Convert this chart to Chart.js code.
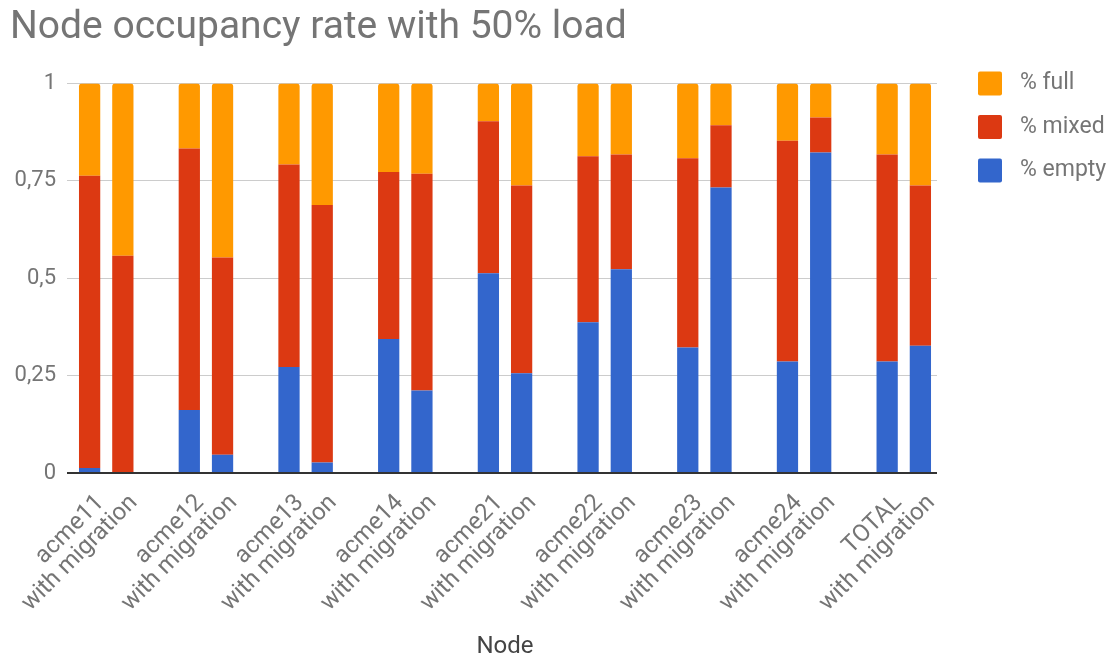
<!DOCTYPE html>
<html>
<head>
<meta charset="utf-8">
<title>Node occupancy rate with 50% load</title>
<script src="https://cdn.jsdelivr.net/npm/chart.js@4/dist/chart.umd.min.js"></script>
<style>
  html, body { margin: 0; padding: 0; background: #fff; }
  canvas { display: block; }
</style>
</head>
<body>
<canvas id="occupancy" width="1114" height="659"></canvas>
<script>
const barLabels = [
  'acme11', 'with migration', 'acme12', 'with migration', 'acme13', 'with migration',
  'acme14', 'with migration', 'acme21', 'with migration', 'acme22', 'with migration',
  'acme23', 'with migration', 'acme24', 'with migration', 'TOTAL', 'with migration'
];
const emptyShare = [0.013, 0, 0.162, 0.047, 0.272, 0.027, 0.344, 0.212, 0.513,
  0.256, 0.387, 0.523, 0.322, 0.733, 0.286, 0.823, 0.286, 0.327];
const mixedShare = [0.750, 0.558, 0.671, 0.506, 0.520, 0.661, 0.429, 0.556, 0.390,
  0.482, 0.426, 0.295, 0.486, 0.160, 0.567, 0.090, 0.532, 0.411];
const fullShare = [0.237, 0.442, 0.167, 0.447, 0.208, 0.312, 0.227, 0.232, 0.097,
  0.262, 0.187, 0.182, 0.192, 0.107, 0.147, 0.087, 0.182, 0.262];
const yTicks = [0, 0.25, 0.5, 0.75, 1];

// a blank category between each node pair gives the gaps
function withGaps(arr, blank) {
  const out = [];
  arr.forEach((v, i) => {
    if (i > 0 && i % 2 === 0) out.push(blank);
    out.push(v);
  });
  return out;
}

const grey = '#757575';
Chart.defaults.font.family = 'Roboto';

// legend drawn beside the plot, top series first
const sideLegend = {
  id: 'sideLegend',
  afterDraw(chart) {
    const { ctx, chartArea } = chart;
    const x = chartArea.right + 41;
    let y = chartArea.top;
    ctx.save();
    ctx.font = '23px Roboto';
    ctx.textBaseline = 'middle';
    chart.data.datasets.slice().reverse().forEach(ds => {
      ctx.fillStyle = ds.backgroundColor;
      ctx.beginPath();
      ctx.roundRect(x, y - 12, 24, 24, 2);
      ctx.fill();
      ctx.fillStyle = grey;
      ctx.fillText(ds.label, x + 42, y);
      y += 43.5;
    });
    ctx.restore();
  }
};

const config = {
  type: 'bar',
  data: {
    labels: withGaps(barLabels, ''),
    datasets: [
      { label: '% empty', data: withGaps(emptyShare, null), backgroundColor: '#3366cc' },
      { label: '% mixed', data: withGaps(mixedShare, null), backgroundColor: '#dc3912' },
      {
        label: '% full', data: withGaps(fullShare, null), backgroundColor: '#ff9900',
        borderRadius: { topLeft: 3, topRight: 3, bottomLeft: 0, bottomRight: 0 }
      }
    ]
  },
  options: {
    responsive: false,
    animation: false,
    layout: { padding: { left: 10, right: 177, top: 0, bottom: 0 } },
    datasets: { bar: { categoryPercentage: 0.64, barPercentage: 1 } },
    plugins: {
      title: {
        display: true,
        text: 'Node occupancy rate with 50% load',
        align: 'start',
        color: grey,
        font: { size: 39, weight: 'normal' },
        padding: { top: 5.1, bottom: 31.6 }
      },
      legend: { display: false },
      tooltip: { enabled: false }
    },
    scales: {
      x: {
        stacked: true,
        grid: { display: false, drawTicks: false },
        border: { display: false },
        ticks: {
          color: grey,
          font: { size: 24 },
          autoSkip: false,
          minRotation: 45,
          maxRotation: 45,
          labelOffset: 11,
          padding: 16
        },
        title: { display: true, text: 'Node', color: '#444', font: { size: 24, lineHeight: 1 }, padding: 0 },
        afterFit(scale) { scale.height = 186; }
      },
      y: {
        stacked: true,
        min: 0,
        max: 1,
        border: { display: false },
        grid: {
          color: ctx => (ctx.tick && ctx.tick.value === 0 ? '#333' : '#ccc'),
          lineWidth: ctx => (ctx.tick && ctx.tick.value === 0 ? 2 : 1),
          drawTicks: true,
          tickLength: 6
        },
        ticks: {
          color: grey,
          font: { size: 22 },
          padding: 11,
          callback: v => String(v).replace('.', ',')
        },
        afterBuildTicks(axis) { axis.ticks = yTicks.map(v => ({ value: v })); },
        afterFit(scale) { scale.width = 63; }
      }
    }
  },
  plugins: [sideLegend]
};

const ctx = document.getElementById('occupancy').getContext('2d');
const occupancyChart = new Chart(ctx, config);
</script>
</body>
</html>
